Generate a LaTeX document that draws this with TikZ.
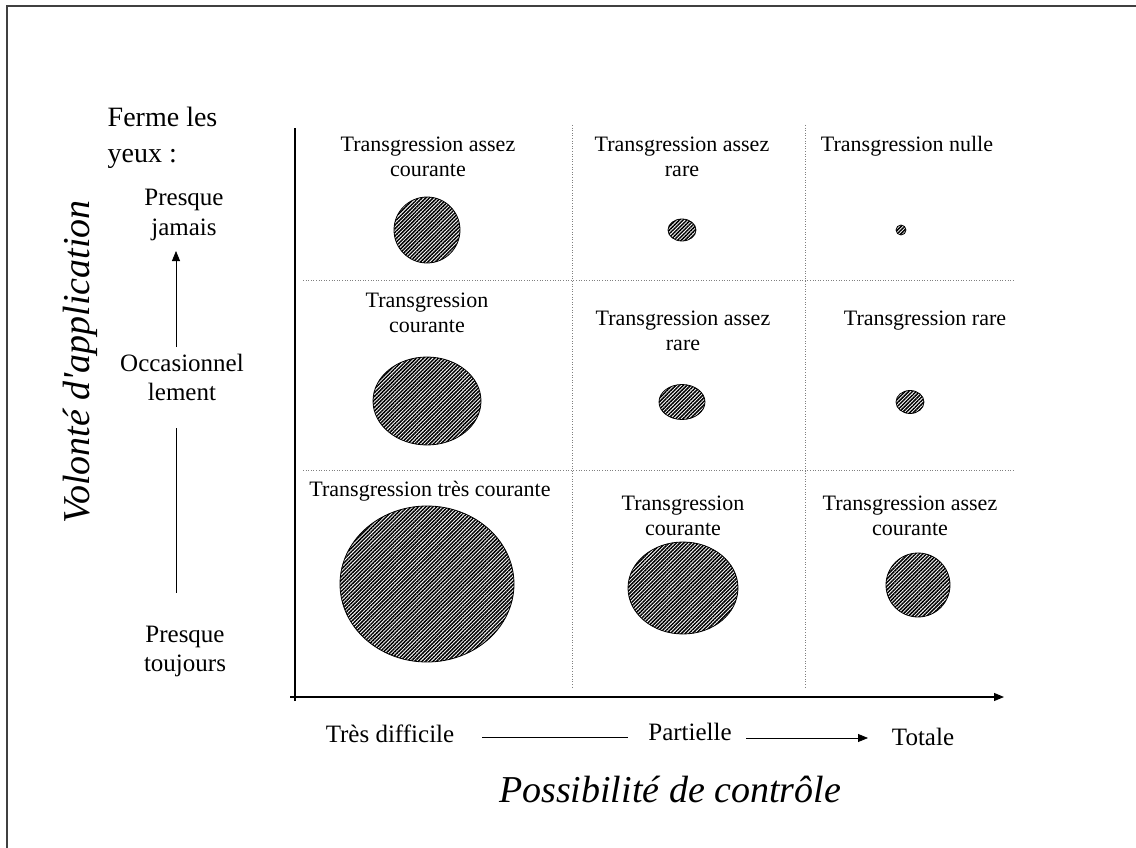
\documentclass[tikz,border=0pt]{standalone}
\usepackage{fontspec}
\setmainfont{Liberation Serif}
\usetikzlibrary{arrows.meta,patterns.meta,shapes.geometric}

\begin{document}
\begin{tikzpicture}[x=1pt,y=-1pt,>={Triangle[length=10pt,width=8pt]},line width=0.8pt,
cell/.style={font=\fontsize{22}{25}\selectfont,align=center,anchor=base},
side/.style={font=\fontsize{25}{29}\selectfont,align=center,anchor=base},
title/.style={font=\fontsize{38}{44}\selectfont\itshape},
blob/.style={ellipse,draw,inner sep=0pt,pattern={Lines[angle=45,distance=2.6pt,line width=1.5pt]}},
gridline/.style={gray,line width=0.6pt,dotted}]
\useasboundingbox (0,0) rectangle (1136,848);
\draw[line width=1.2pt,black!75] (7,848) -- (7,6) -- (1136,6);
\draw[gridline] (303,280) -- (1015,280);
\draw[gridline] (303,470) -- (1015,470);
\draw[gridline] (572,125) -- (572,688);
\draw[gridline] (805,125) -- (805,688);
\coordinate (yt) at (295,128);
\coordinate (yb) at (295,701);
\coordinate (xl) at (290,697);
\coordinate (xr) at (1004,697);
\draw[line width=1.1pt] (yb) -- (yt);
\draw[line width=1.1pt,->] (xl) -- (xr);
\node[cell] (c11) at (428,177) {Transgression assez\\courante};
\node[cell] (c12) at (682,177) {Transgression assez\\rare};
\node[cell] (c13) at (907,152) {Transgression nulle};
\node[cell] (c21) at (427,332) {Transgression\\courante};
\node[cell] (c22) at (683,350) {Transgression assez\\rare};
\node[cell] (c23) at (925,325) {Transgression rare};
\node[cell] (c31) at (430,496) {Transgression très courante};
\node[cell] (c32) at (683,535) {Transgression\\courante};
\node[cell] (c33) at (910,535) {Transgression assez\\courante};
\node[blob,minimum width=66,minimum height=66] (e11) at (427,230) {};
\node[blob,minimum width=28,minimum height=22] (e12) at (682,230) {};
\node[blob,minimum width=10,minimum height=10] (e13) at (901,230) {};
\node[blob,minimum width=108,minimum height=88] (e21) at (427,401) {};
\node[blob,minimum width=46,minimum height=35] (e22) at (682,402) {};
\node[blob,minimum width=28,minimum height=23] (e23) at (910,402) {};
\node[blob,minimum width=174,minimum height=156] (e31) at (427,584) {};
\node[blob,minimum width=110,minimum height=92] (e32) at (683,588) {};
\node[blob,minimum width=64,minimum height=64] (e33) at (918,585) {};
\node[font=\fontsize{28}{36}\selectfont,align=left,anchor=base west] (ferme) at (104,163) {Ferme les\\yeux :};
\node[side] (jam) at (184,235) {Presque\\jamais};
\node[side] (occ) at (182,400) {Occasionnel\\lement};
\node[side] (tou) at (185,671) {Presque\\toujours};
\node[title,rotate=90] (vol) at (80,362) {Volonté d\textquotesingle application};
\node[side] (tres) at (390,742) {Très difficile};
\node[side] (part) at (690,740) {Partielle};
\node[side] (tot) at (923,745) {Totale};
\node[title,anchor=base] (poss) at (670,802) {Possibilité de contrôle};
\coordinate (u1) at (176,347);
\coordinate (u2) at (176,251);
\coordinate (d1) at (176,428);
\coordinate (d2) at (176,593);
\draw[->] (u1) -- (u2);
\draw (d1) -- (d2);
\coordinate (h1) at (482,737);
\coordinate (h2) at (628,737);
\coordinate (h3) at (746,738);
\coordinate (h4) at (868,738);
\draw (h1) -- (h2);
\draw[->] (h3) -- (h4);
\end{tikzpicture}
\end{document}
